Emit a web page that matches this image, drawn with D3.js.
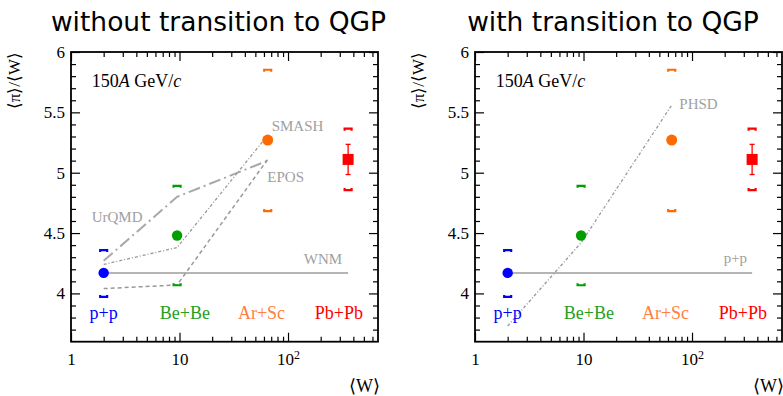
<!DOCTYPE html>
<html><head><meta charset="utf-8">
<script src="https://cdn.jsdelivr.net/npm/d3@7"></script>
<style>body{margin:0;background:#fff}svg{display:block}</style>
</head><body>
<svg id="c" width="783" height="396"></svg>
<script>
// ---- data ----
const systems = ["p+p", "Be+Be", "Ar+Sc", "Pb+Pb"];
const sysW = [2, 9.5, 65, 358];
const ratio = [4.17, 4.48, 5.27, 5.11];
const statErr = [0, 0, 0, 0.125];
const sysUp = [4.355, 4.887, 5.849, 5.361];
const sysLow = [3.975, 4.072, 4.686, 4.86];
const labelW = [2.0, 11.2, 57, 294];
const labelY = 3.79;
const modelW = [2, 9.5, 65];
const urqmd = [4.27, 4.80, 5.10];
const smash = [4.24, 4.38, 5.31];
const epos = [4.04, 4.07, 5.11];
const phsd = [3.73, 4.42, 5.56];
const wnmValue = 4.17;
const wnmRange = [2, 358];
const xMajor = [1, 10, 100];
const xMinor = [2,3,4,5,6,7,8,9,20,30,40,50,60,70,80,90,200,300,400,500,600];
const yMajor = [4, 4.5, 5, 5.5, 6];
const yMinor = [3.7,3.8,3.9,4.1,4.2,4.3,4.4,4.6,4.7,4.8,4.9,5.1,5.2,5.3,5.4,5.6,5.7,5.8,5.9];
const titles = ["without transition to QGP", "with transition to QGP"];

const colors = ["#0000ff", "#009f00", "#ff6a00", "#ff0000"];
const labelColors = ["#0000ff", "#22a022", "#ff7f3f", "#ff0000"];
const gray = "#a0a0a0";

const svg = d3.select("#c");
const serif = "'Liberation Serif','Times New Roman',serif";

function panel(ox, idx) {
  const x = d3.scaleLog().domain([1, 675]).range([71 + ox, 378 + ox]);
  const y = d3.scaleLinear().domain([3.6, 6]).range([341.7, 52]);
  const g = svg.append("g");

  // title
  svg.append("text").attr("x", (idx === 0 ? 218.5 : 613)).attr("y", 31)
    .attr("text-anchor", "middle").attr("font-family", "'DejaVu Sans',sans-serif")
    .attr("font-size", 26.5).attr("fill", "#000").text(titles[idx]);

  // axes
  const fmtX = d => d === 1 ? "1" : "10";
  const bottom = g.append("g").attr("transform", `translate(0,${y(3.6)})`)
    .call(d3.axisBottom(x).tickValues(xMajor).tickSizeInner(-9).tickSizeOuter(0).tickPadding(11).tickFormat(fmtX));
  bottom.selectAll("text").filter(d => d === 100).append("tspan").attr("dy", "-0.45em").attr("font-size", 12).text("2");
  g.append("g").attr("transform", `translate(0,${y(3.6)})`)
    .call(d3.axisBottom(x).tickValues(xMinor).tickSizeInner(-5).tickSizeOuter(0).tickFormat(""));
  g.append("g").attr("transform", `translate(0,${y(6)})`)
    .call(d3.axisTop(x).tickValues(xMajor).tickSizeInner(-9).tickSizeOuter(0).tickFormat(""));
  g.append("g").attr("transform", `translate(0,${y(6)})`)
    .call(d3.axisTop(x).tickValues(xMinor).tickSizeInner(-5).tickSizeOuter(0).tickFormat(""));
  g.append("g").attr("transform", `translate(${x(1)},0)`)
    .call(d3.axisLeft(y).tickValues(yMajor).tickSizeInner(-9).tickSizeOuter(0).tickPadding(6).tickFormat(d3.format("")));
  g.append("g").attr("transform", `translate(${x(1)},0)`)
    .call(d3.axisLeft(y).tickValues(yMinor).tickSizeInner(-5).tickSizeOuter(0).tickFormat(""));
  g.append("g").attr("transform", `translate(${x(675)},0)`)
    .call(d3.axisRight(y).tickValues(yMajor).tickSizeInner(-9).tickSizeOuter(0).tickFormat(""));
  g.append("g").attr("transform", `translate(${x(675)},0)`)
    .call(d3.axisRight(y).tickValues(yMinor).tickSizeInner(-5).tickSizeOuter(0).tickFormat(""));
  g.selectAll(".domain").remove();
  g.selectAll(".tick line").attr("stroke", "#000").attr("stroke-width", 1.2);
  g.selectAll(".tick text").attr("font-family", serif).attr("font-size", 17).attr("fill", "#000");

  g.append("rect").attr("x", x(1)).attr("y", y(6)).attr("width", x(675) - x(1)).attr("height", y(3.6) - y(6))
    .attr("fill", "none").attr("stroke", "#000").attr("stroke-width", 1.8);

  // axis titles
  g.append("text").attr("transform", `translate(${20 + ox},52) rotate(-90)`)
    .attr("text-anchor", "end").attr("font-family", serif).attr("font-size", 17).text("⟨π⟩/⟨W⟩");
  g.append("text").attr("x", x(675) + 2).attr("y", 392).attr("text-anchor", "end")
    .attr("font-family", serif).attr("font-size", 18).text("⟨W⟩");

  // energy label
  const el = g.append("text").attr("x", 91.7 + ox).attr("y", 86.7).attr("font-family", serif).attr("font-size", 18);
  el.append("tspan").text("150");
  el.append("tspan").attr("font-style", "italic").text("A");
  el.append("tspan").text(" GeV/");
  el.append("tspan").attr("font-style", "italic").text("c");

  const line = d3.line().x((d, i) => x(modelW[i])).y(d => y(d));

  // reference horizontal line
  g.append("line").attr("x1", x(wnmRange[0])).attr("x2", x(wnmRange[1]))
    .attr("y1", y(wnmValue)).attr("y2", y(wnmValue)).attr("stroke", "#b4b4b4").attr("stroke-width", 2);

  const lab = (t, xx, yy, anchor) => g.append("text").attr("x", xx).attr("y", yy).attr("text-anchor", anchor || "start")
    .attr("font-family", serif).attr("font-size", 15).attr("fill", gray).text(t);

  if (idx === 0) {
    g.append("path").attr("d", line(urqmd)).attr("fill", "none").attr("stroke", "#a8a8a8")
      .attr("stroke-width", 2).attr("stroke-dasharray", "12,4,2,4");
    g.append("path").attr("d", line(smash)).attr("fill", "none").attr("stroke", "#999")
      .attr("stroke-width", 1.3).attr("stroke-dasharray", "3,2,1,2");
    g.append("path").attr("d", line(epos)).attr("fill", "none").attr("stroke", "#999")
      .attr("stroke-width", 1.5).attr("stroke-dasharray", "4,3");
    lab("UrQMD", 91.7, 221.7);
    lab("SMASH", 271.7, 130.7);
    lab("EPOS", 267.3, 181.7);
    lab("WNM", x(wnmRange[1]) - 6, 264.3, "end");
  } else {
    g.append("path").attr("d", line(phsd)).attr("fill", "none").attr("stroke", "#999")
      .attr("stroke-width", 1.3).attr("stroke-dasharray", "3,2,1,2");
    lab("PHSD", 679.3, 109.3);
    lab("p+p", x(wnmRange[1]) - 5, 263, "end");
  }

  // data
  systems.forEach((s, i) => {
    const cx = x(sysW[i]);
    const c = colors[i];
    // systematic brackets
    const yu = y(sysUp[i]), yl = y(sysLow[i]);
    g.append("path").attr("d", `M${cx - 3.5},${yu + 1.5}V${yu - 0.5}H${cx + 3.5}V${yu + 1.5}`)
      .attr("fill", "none").attr("stroke", c).attr("stroke-width", 2.2);
    g.append("path").attr("d", `M${cx - 3.5},${yl - 1.5}V${yl + 0.5}H${cx + 3.5}V${yl - 1.5}`)
      .attr("fill", "none").attr("stroke", c).attr("stroke-width", 2.2);
    if (statErr[i] > 0) {
      const y1 = y(ratio[i] + statErr[i]), y2 = y(ratio[i] - statErr[i]);
      g.append("line").attr("x1", cx).attr("x2", cx).attr("y1", y1).attr("y2", y2).attr("stroke", c).attr("stroke-width", 1.3);
      [y1, y2].forEach(yy => g.append("line").attr("x1", cx - 2.5).attr("x2", cx + 2.5).attr("y1", yy).attr("y2", yy)
        .attr("stroke", c).attr("stroke-width", 1.3));
    }
    if (i === 3) {
      g.append("rect").attr("x", cx - 5.5).attr("y", y(ratio[i]) - 5.5).attr("width", 11).attr("height", 11).attr("fill", c);
    } else {
      g.append("circle").attr("cx", cx).attr("cy", y(ratio[i])).attr("r", i === 2 ? 5.5 : 5.2).attr("fill", c);
    }
    g.append("text").attr("x", x(labelW[i])).attr("y", y(labelY)).attr("text-anchor", "middle")
      .attr("font-family", serif).attr("font-size", 18).attr("fill", labelColors[i]).text(s);
  });
}

panel(0, 0);
panel(404, 1);
</script>
</body></html>
